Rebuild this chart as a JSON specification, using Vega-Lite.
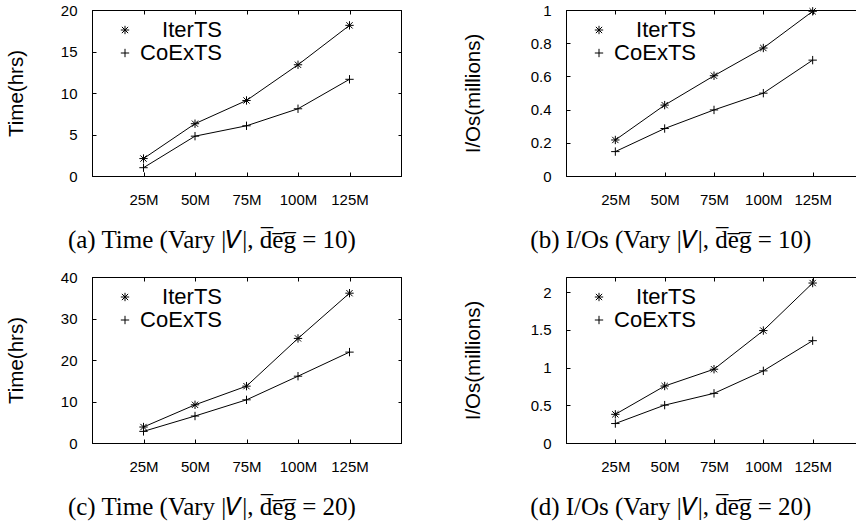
{
  "$schema": "https://vega.github.io/schema/vega-lite/v6.json",
  "background": "white",
  "padding": {"left": 5, "top": 2, "right": 0, "bottom": 0},
  "datasets": {
    "d": [
      {"p": "a", "s": "IterTS", "x": 25, "v": 2.1},
      {"p": "a", "s": "IterTS", "x": 50, "v": 6.3},
      {"p": "a", "s": "IterTS", "x": 75, "v": 9.1},
      {"p": "a", "s": "IterTS", "x": 100, "v": 13.4},
      {"p": "a", "s": "IterTS", "x": 125, "v": 18.15},
      {"p": "a", "s": "CoExTS", "x": 25, "v": 1.0},
      {"p": "a", "s": "CoExTS", "x": 50, "v": 4.8},
      {"p": "a", "s": "CoExTS", "x": 75, "v": 6.05},
      {"p": "a", "s": "CoExTS", "x": 100, "v": 8.1},
      {"p": "a", "s": "CoExTS", "x": 125, "v": 11.65},
      {"p": "b", "s": "IterTS", "x": 25, "v": 0.217},
      {"p": "b", "s": "IterTS", "x": 50, "v": 0.427},
      {"p": "b", "s": "IterTS", "x": 75, "v": 0.604},
      {"p": "b", "s": "IterTS", "x": 100, "v": 0.771},
      {"p": "b", "s": "IterTS", "x": 125, "v": 0.992},
      {"p": "b", "s": "CoExTS", "x": 25, "v": 0.147},
      {"p": "b", "s": "CoExTS", "x": 50, "v": 0.286},
      {"p": "b", "s": "CoExTS", "x": 75, "v": 0.398},
      {"p": "b", "s": "CoExTS", "x": 100, "v": 0.499},
      {"p": "b", "s": "CoExTS", "x": 125, "v": 0.698},
      {"p": "c", "s": "IterTS", "x": 25, "v": 3.85},
      {"p": "c", "s": "IterTS", "x": 50, "v": 9.2},
      {"p": "c", "s": "IterTS", "x": 75, "v": 13.7},
      {"p": "c", "s": "IterTS", "x": 100, "v": 25.2},
      {"p": "c", "s": "IterTS", "x": 125, "v": 36.1},
      {"p": "c", "s": "CoExTS", "x": 25, "v": 2.8},
      {"p": "c", "s": "CoExTS", "x": 50, "v": 6.5},
      {"p": "c", "s": "CoExTS", "x": 75, "v": 10.4},
      {"p": "c", "s": "CoExTS", "x": 100, "v": 16.1},
      {"p": "c", "s": "CoExTS", "x": 125, "v": 21.9},
      {"p": "d", "s": "IterTS", "x": 25, "v": 0.38},
      {"p": "d", "s": "IterTS", "x": 50, "v": 0.755},
      {"p": "d", "s": "IterTS", "x": 75, "v": 0.978},
      {"p": "d", "s": "IterTS", "x": 100, "v": 1.49},
      {"p": "d", "s": "IterTS", "x": 125, "v": 2.12},
      {"p": "d", "s": "CoExTS", "x": 25, "v": 0.258},
      {"p": "d", "s": "CoExTS", "x": 50, "v": 0.502},
      {"p": "d", "s": "CoExTS", "x": 75, "v": 0.658},
      {"p": "d", "s": "CoExTS", "x": 100, "v": 0.956},
      {"p": "d", "s": "CoExTS", "x": 125, "v": 1.356}
    ]
  },
  "columns": 2,
  "align": "each",
  "spacing": {"row": 15, "column": 60},
  "resolve": {
    "scale": {"x": "independent", "y": "independent", "shape": "independent"},
    "legend": {"shape": "independent"}
  },
  "concat": [
    {
      "width": 309, "height": 166,
      "data": {"name": "d"},
      "transform": [{"filter": "datum.p == 'a'"}],
      "title": {"text": "(a) Time (Vary |𝑉|, d̅e̅g̅ = 10)"},
      "resolve": {"axis": {"x": "independent", "y": "independent"}},
      "layer": [
        {
          "mark": {"type": "line", "color": "black", "strokeWidth": 1},
          "encoding": {
            "x": {"field": "x", "type": "quantitative", "scale": {"domain": [0, 150], "nice": false}, "axis": {"orient": "bottom", "title": null, "values": [25, 50, 75, 100, 125], "labelExpr": "datum.value + 'M'"}},
            "y": {"field": "v", "type": "quantitative", "scale": {"domain": [0, 20], "nice": false}, "axis": {"orient": "left", "title": "Time(hrs)", "values": [0, 5, 10, 15, 20], "format": "~r", "titlePadding": 34}},
            "detail": {"field": "s"}
          }
        },
        {
          "mark": {"type": "point", "filled": false, "color": "black", "strokeWidth": 1, "size": 70, "opacity": 1},
          "encoding": {
            "x": {"field": "x", "type": "quantitative", "scale": {"domain": [0, 150], "nice": false}, "axis": {"orient": "top", "title": null, "labels": false, "values": [25, 50, 75, 100, 125]}},
            "y": {"field": "v", "type": "quantitative", "scale": {"domain": [0, 20], "nice": false}, "axis": {"orient": "right", "title": null, "labels": false, "values": [0, 5, 10, 15, 20], "tickSize": -3}},
            "shape": {"field": "s", "type": "nominal", "scale": {"domain": ["IterTS", "CoExTS"], "range": ["M-1,0L1,0M0,-1L0,1M-0.75,-0.75L0.75,0.75M-0.75,0.75L0.75,-0.75", "M-1,0L1,0M0,-1L0,1"]}, "legend": {"orient": "none", "legendX": 22, "legendY": 9}}
          }
        }
      ]
    },
    {
      "width": 296, "height": 166,
      "data": {"name": "d"},
      "transform": [{"filter": "datum.p == 'b'"}],
      "title": {"text": "(b) I/Os (Vary |𝑉|, d̅e̅g̅ = 10)"},
      "resolve": {"axis": {"x": "independent", "y": "independent"}},
      "layer": [
        {
          "mark": {"type": "line", "color": "black", "strokeWidth": 1},
          "encoding": {
            "x": {"field": "x", "type": "quantitative", "scale": {"domain": [0, 150], "nice": false}, "axis": {"orient": "bottom", "title": null, "values": [25, 50, 75, 100, 125], "labelExpr": "datum.value + 'M'"}},
            "y": {"field": "v", "type": "quantitative", "scale": {"domain": [0, 1], "nice": false}, "axis": {"orient": "left", "title": "I/Os(millions)", "values": [0, 0.2, 0.4, 0.6, 0.8, 1], "format": "~r", "titlePadding": 47}},
            "detail": {"field": "s"}
          }
        },
        {
          "mark": {"type": "point", "filled": false, "color": "black", "strokeWidth": 1, "size": 70, "opacity": 1},
          "encoding": {
            "x": {"field": "x", "type": "quantitative", "scale": {"domain": [0, 150], "nice": false}, "axis": {"orient": "top", "title": null, "labels": false, "values": [25, 50, 75, 100, 125]}},
            "y": {"field": "v", "type": "quantitative", "scale": {"domain": [0, 1], "nice": false}, "axis": {"orient": "right", "title": null, "labels": false, "values": [0, 0.2, 0.4, 0.6, 0.8, 1], "tickSize": -3}},
            "shape": {"field": "s", "type": "nominal", "scale": {"domain": ["IterTS", "CoExTS"], "range": ["M-1,0L1,0M0,-1L0,1M-0.75,-0.75L0.75,0.75M-0.75,0.75L0.75,-0.75", "M-1,0L1,0M0,-1L0,1"]}, "legend": {"orient": "none", "legendX": 22, "legendY": 9}}
          }
        }
      ]
    },
    {
      "width": 309, "height": 166,
      "data": {"name": "d"},
      "transform": [{"filter": "datum.p == 'c'"}],
      "title": {"text": "(c) Time (Vary |𝑉|, d̅e̅g̅ = 20)"},
      "resolve": {"axis": {"x": "independent", "y": "independent"}},
      "layer": [
        {
          "mark": {"type": "line", "color": "black", "strokeWidth": 1},
          "encoding": {
            "x": {"field": "x", "type": "quantitative", "scale": {"domain": [0, 150], "nice": false}, "axis": {"orient": "bottom", "title": null, "values": [25, 50, 75, 100, 125], "labelExpr": "datum.value + 'M'"}},
            "y": {"field": "v", "type": "quantitative", "scale": {"domain": [0, 40], "nice": false}, "axis": {"orient": "left", "title": "Time(hrs)", "values": [0, 10, 20, 30, 40], "format": "~r", "titlePadding": 34}},
            "detail": {"field": "s"}
          }
        },
        {
          "mark": {"type": "point", "filled": false, "color": "black", "strokeWidth": 1, "size": 70, "opacity": 1},
          "encoding": {
            "x": {"field": "x", "type": "quantitative", "scale": {"domain": [0, 150], "nice": false}, "axis": {"orient": "top", "title": null, "labels": false, "values": [25, 50, 75, 100, 125]}},
            "y": {"field": "v", "type": "quantitative", "scale": {"domain": [0, 40], "nice": false}, "axis": {"orient": "right", "title": null, "labels": false, "values": [0, 10, 20, 30, 40], "tickSize": -3}},
            "shape": {"field": "s", "type": "nominal", "scale": {"domain": ["IterTS", "CoExTS"], "range": ["M-1,0L1,0M0,-1L0,1M-0.75,-0.75L0.75,0.75M-0.75,0.75L0.75,-0.75", "M-1,0L1,0M0,-1L0,1"]}, "legend": {"orient": "none", "legendX": 22, "legendY": 9}}
          }
        }
      ]
    },
    {
      "width": 296, "height": 166,
      "data": {"name": "d"},
      "transform": [{"filter": "datum.p == 'd'"}],
      "title": {"text": "(d) I/Os (Vary |𝑉|, d̅e̅g̅ = 20)"},
      "resolve": {"axis": {"x": "independent", "y": "independent"}},
      "layer": [
        {
          "mark": {"type": "line", "color": "black", "strokeWidth": 1},
          "encoding": {
            "x": {"field": "x", "type": "quantitative", "scale": {"domain": [0, 150], "nice": false}, "axis": {"orient": "bottom", "title": null, "values": [25, 50, 75, 100, 125], "labelExpr": "datum.value + 'M'"}},
            "y": {"field": "v", "type": "quantitative", "scale": {"domain": [0, 2.2], "nice": false}, "axis": {"orient": "left", "title": "I/Os(millions)", "values": [0, 0.5, 1, 1.5, 2], "format": "~r", "titlePadding": 47}},
            "detail": {"field": "s"}
          }
        },
        {
          "mark": {"type": "point", "filled": false, "color": "black", "strokeWidth": 1, "size": 70, "opacity": 1},
          "encoding": {
            "x": {"field": "x", "type": "quantitative", "scale": {"domain": [0, 150], "nice": false}, "axis": {"orient": "top", "title": null, "labels": false, "values": [25, 50, 75, 100, 125]}},
            "y": {"field": "v", "type": "quantitative", "scale": {"domain": [0, 2.2], "nice": false}, "axis": {"orient": "right", "title": null, "labels": false, "values": [0, 0.5, 1, 1.5, 2], "tickSize": -3}},
            "shape": {"field": "s", "type": "nominal", "scale": {"domain": ["IterTS", "CoExTS"], "range": ["M-1,0L1,0M0,-1L0,1M-0.75,-0.75L0.75,0.75M-0.75,0.75L0.75,-0.75", "M-1,0L1,0M0,-1L0,1"]}, "legend": {"orient": "none", "legendX": 22, "legendY": 9}}
          }
        }
      ]
    }
  ],
  "config": {
    "font": "Liberation Sans",
    "view": {"stroke": "black", "strokeWidth": 1},
    "axis": {
      "grid": false,
      "domainColor": "black",
      "domainWidth": 1,
      "tickColor": "black",
      "tickWidth": 1,
      "tickSize": -4,
      "labelColor": "black",
      "labelFont": "Liberation Sans",
      "labelFontSize": 15,
      "titleColor": "black",
      "titleFont": "Liberation Sans",
      "titleFontSize": 20.5,
      "titleFontWeight": "normal"
    },
    "axisX": {"labelPadding": 20},
    "axisY": {"labelPadding": 19},
    "legend": {
      "title": null,
      "padding": 0,
      "rowPadding": 1,
      "labelFont": "Liberation Sans",
      "labelFontSize": 22,
      "labelColor": "black",
      "labelAlign": "right",
      "labelOffset": 86,
      "symbolSize": 70,
      "symbolStrokeColor": "black",
      "symbolStrokeWidth": 1,
      "symbolFillColor": "transparent"
    },
    "title": {
      "font": "Liberation Serif",
      "fontSize": 25,
      "fontWeight": "normal",
      "color": "black",
      "orient": "bottom",
      "anchor": "middle",
      "frame": "bounds",
      "offset": 21,
      "dx": 8
    }
  }
}
